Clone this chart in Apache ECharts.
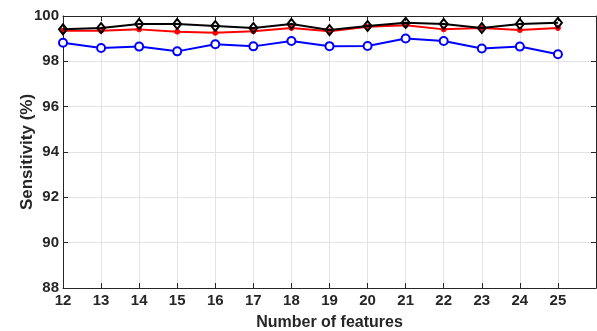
<!DOCTYPE html>
<html>
<head>
<meta charset="utf-8">
<script src="https://cdn.jsdelivr.net/npm/echarts@6/dist/echarts.min.js"></script>
<style>
html,body{margin:0;padding:0;background:#fff;}
#c{width:597px;height:331px;}
</style>
</head>
<body>
<div id="c"></div>
<script>
const features = [12,13,14,15,16,17,18,19,20,21,22,23,24,25];
const blackSeries = [99.41,99.47,99.65,99.65,99.56,99.47,99.65,99.38,99.56,99.70,99.65,99.47,99.65,99.70];
const redSeries   = [99.35,99.35,99.41,99.31,99.26,99.33,99.47,99.33,99.53,99.59,99.41,99.47,99.38,99.47];
const blueSeries  = [98.82,98.59,98.65,98.44,98.75,98.66,98.90,98.67,98.68,99.01,98.90,98.57,98.65,98.31];
const yTicks = [88,90,92,94,96,98,100];

function pairs(vals){ return features.map((f,i)=>[f, vals[i]]); }

const font = 'Liberation Sans, Arial, sans-serif';
const axisLineStyle = {color:'#262626', width:1};

const chart = echarts.init(document.getElementById('c'), null, {renderer:'canvas'});
chart.setOption({
  animation:false,
  backgroundColor:'#fff',
  grid:{left:63, right:1, top:16, bottom:43, containLabel:false, outerBoundsMode:'none'},
  xAxis:[{
    type:'value', min:12, max:26, interval:1, position:'bottom',
    name:'Number of features', nameLocation:'middle', nameGap:27, nameMoveOverlap:false,
    nameTextStyle:{fontFamily:font, fontWeight:'bold', fontSize:16, color:'#262626'},
    axisLine:{show:true, lineStyle:axisLineStyle},
    axisTick:{show:true, inside:true, length:5, lineStyle:axisLineStyle},
    axisLabel:{fontFamily:font, fontWeight:'bold', fontSize:15, color:'#262626', margin:5,
      formatter:v=> v===26 ? '' : String(v)},
    splitLine:{show:true, lineStyle:{color:'#e3e3e3', width:1}}
  },{
    type:'value', min:12, max:26, interval:1, position:'top',
    axisLine:{show:true, lineStyle:axisLineStyle},
    axisTick:{show:true, inside:true, length:5, lineStyle:axisLineStyle},
    axisLabel:{show:false}, splitLine:{show:false}
  }],
  yAxis:[{
    type:'value', min:88, max:100, interval:2, position:'left',
    name:'Sensitivity (%)', nameLocation:'middle', nameGap:27, nameMoveOverlap:false,
    nameTextStyle:{fontFamily:font, fontWeight:'bold', fontSize:17, color:'#262626'},
    axisLine:{show:true, lineStyle:axisLineStyle},
    axisTick:{show:true, inside:true, length:5, lineStyle:axisLineStyle},
    axisLabel:{fontFamily:font, fontWeight:'bold', fontSize:15, color:'#262626', margin:4,
      formatter:v=> yTicks.includes(v) ? String(v) : ''},
    splitLine:{show:true, lineStyle:{color:'#e3e3e3', width:1}}
  },{
    type:'value', min:88, max:100, interval:2, position:'right',
    axisLine:{show:true, lineStyle:axisLineStyle},
    axisTick:{show:true, inside:true, length:5, lineStyle:axisLineStyle},
    axisLabel:{show:false}, splitLine:{show:false}
  }],
  series:[
    {type:'line', data:pairs(blueSeries), color:'#0000ff',
     lineStyle:{width:2, color:'#0000ff'}, symbol:'circle', symbolSize:8,
     itemStyle:{color:'#fff', borderColor:'#0000ff', borderWidth:2}, z:2},
    {type:'line', data:pairs(redSeries), color:'#ff0000',
     lineStyle:{width:2, color:'#ff0000'}, symbol:'circle', symbolSize:5,
     itemStyle:{color:'#ff0000', borderColor:'#ff0000', borderWidth:1}, z:3},
    {type:'line', data:pairs(blackSeries), color:'#000',
     lineStyle:{width:2, color:'#000'}, symbol:'diamond', symbolSize:[8,10],
     itemStyle:{color:'transparent', borderColor:'#000', borderWidth:2}, z:4}
  ]
});
</script>
</body>
</html>
